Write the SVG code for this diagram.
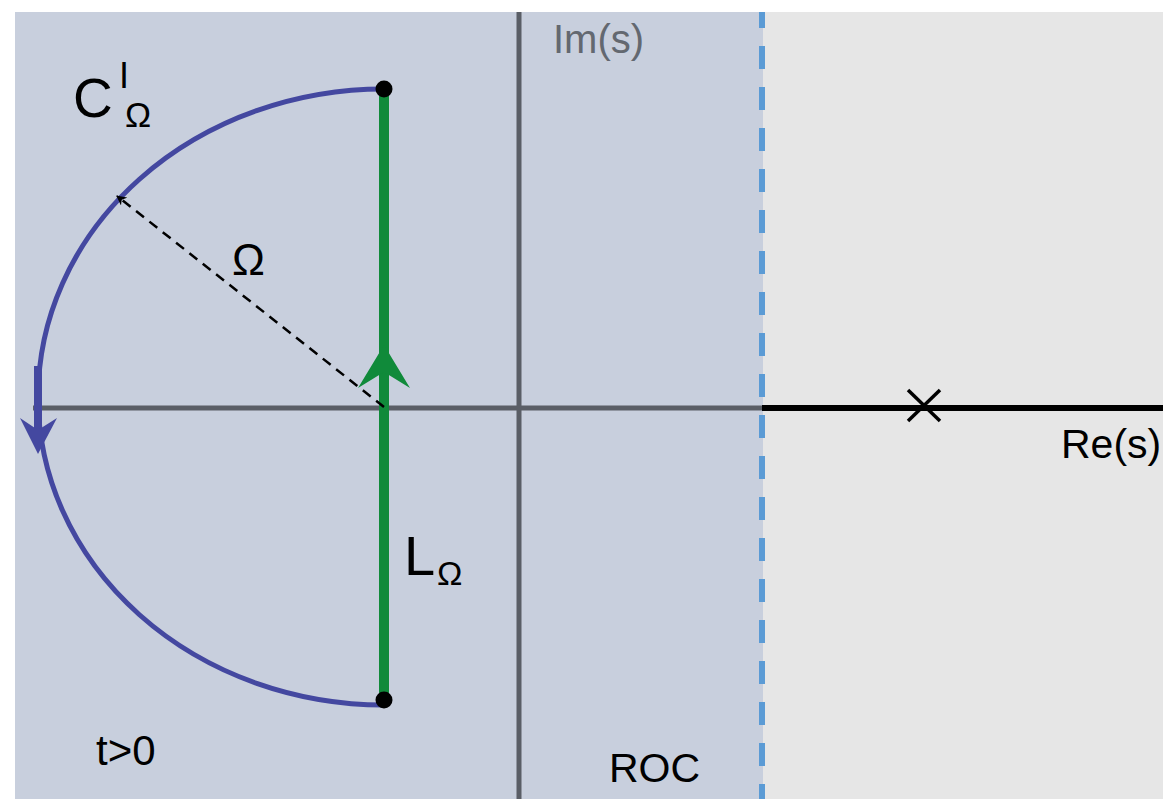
<svg xmlns="http://www.w3.org/2000/svg" width="1163" height="799" viewBox="0 0 1163 799">
<style>
.t{font-family:"Liberation Sans",Arial,sans-serif;fill:#000}
.ax{stroke:#5a5e66;stroke-width:5;fill:none}
</style>
<defs>
<marker id="ah" markerWidth="10" markerHeight="10" refX="9" refY="5" orient="auto" markerUnits="userSpaceOnUse" viewBox="0 0 10 10">
<path d="M0,0 L10,5 L0,10 L3,5 Z" fill="#000"/>
</marker>
</defs>
<rect x="0" y="0" width="1163" height="799" fill="#ffffff"/>
<rect x="15" y="12" width="748" height="787" fill="#c8cfdd"/>
<rect x="763" y="12" width="400" height="787" fill="#e6e6e6"/>
<g id="axes">
<line class="ax" x1="33" y1="408" x2="762" y2="408"/>
<line x1="762" y1="408" x2="1163" y2="408" stroke="#000" stroke-width="6"/>
<line class="ax" x1="519" y1="12" x2="519" y2="799"/>
<line x1="762" y1="12" x2="762" y2="799" stroke="#5b9bd5" stroke-width="6" stroke-dasharray="23 18" stroke-dashoffset="7"/>
</g>
<g id="pole">
<line x1="908" y1="390" x2="940" y2="421" stroke="#000" stroke-width="3.5"/>
<line x1="940" y1="390" x2="908" y2="421" stroke="#000" stroke-width="3.5"/>
</g>
<g id="connectors">
<path d="M384,89 A346,308 0 0 0 384,705" fill="none" stroke="#4448a0" stroke-width="5"/>
<line x1="38" y1="366" x2="38" y2="432" stroke="#4448a0" stroke-width="8"/>
<path d="M38,454 L20,418 L38,430 L57,418 Z" fill="#4448a0"/>
<line x1="384" y1="89" x2="384" y2="700" stroke="#108a3a" stroke-width="10"/>
<path d="M384,345 L410,388 L384,372 L358,388 Z" fill="#108a3a"/>
<line x1="384" y1="407" x2="117" y2="196" stroke="#000" stroke-width="2.5" stroke-dasharray="10 7" marker-end="url(#ah)"/>
<circle cx="384" cy="89" r="8.5" fill="#000"/>
<circle cx="384" cy="700" r="8.5" fill="#000"/>
</g>
<g id="labels">
<text class="t" x="73" y="117" font-size="55">C</text>
<text class="t" x="119" y="88" font-size="36">I</text>
<text class="t" x="125" y="127" font-size="35">Ω</text>
<text class="t" x="232" y="275" font-size="44">Ω</text>
<text class="t" x="404" y="575" font-size="56">L</text>
<text class="t" x="437" y="585" font-size="34">Ω</text>
<text class="t" x="553" y="53" font-size="40" style="fill:#636870">Im(s)</text>
<text class="t" x="1061" y="458" font-size="41">Re(s)</text>
<text class="t" x="96" y="765" font-size="42">t&gt;0</text>
<text class="t" x="609" y="782" font-size="41">ROC</text>
</g>
</svg>
